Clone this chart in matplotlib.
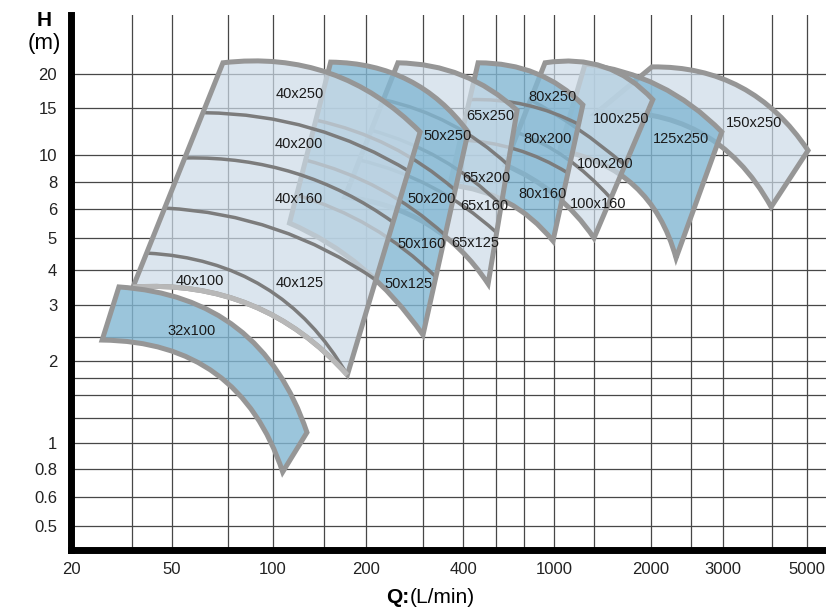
import numpy as np
import matplotlib
matplotlib.use("Agg")
import matplotlib.pyplot as plt
from matplotlib.path import Path
from matplotlib.patches import PathPatch
from matplotlib.ticker import NullFormatter

plt.rcParams['font.family'] = ['Liberation Sans', 'DejaVu Sans']

# the reference grid is hand drawn, not a clean log grid: grid value -> pixel
X_GRID = [20, 30, 50, 70, 100, 150, 200, 300, 400, 500, 700, 1000, 1500, 2000, 2500, 3000, 4000, 5000, 6000]
X_PIX = [71, 132, 172, 228, 273, 324, 366, 423, 463, 496, 524, 554, 594, 651, 691, 723, 772, 807, 826]
Y_GRID = [0.4, 0.5, 0.6, 0.8, 1, 1.2, 1.5, 1.7, 2, 2.5, 3, 4, 5, 6, 8, 10, 15, 20, 30]
Y_PIX = [549.5, 526, 497, 469, 443, 418, 395, 378, 361, 337, 305, 270, 238, 209, 182, 155, 108, 74, 15]
X_LABELED = [20, 50, 100, 200, 400, 1000, 2000, 3000, 5000]
Y_LABELED = [0.5, 0.6, 0.8, 1, 2, 3, 4, 5, 6, 8, 10, 15, 20]

# pump families; each curve is (start, middle, end) in Q [L/min], H [m]
FAMILIES = ['32', '40', '50', '65', '80', '100', '125', '150']
TOP_Q = [[27.5, 75.2, 131], [67.9, 156, 294], [157, 270, 414], [251, 397, 644],
         [443, 807, 1340], [899, 1580, 2020], [1370, 2090, 2980], [2010, 3330, 5050]]
TOP_H = [[3.48, 2.63, 1.08], [21.6, 20.1, 12.2], [21.7, 19, 12.2], [21.6, 19.8, 14.7],
         [21.6, 20.1, 15.4], [21.6, 21, 16.1], [21.4, 18.1, 12.2], [21, 17.9, 10.4]]
BOT_Q = [[24.6, 65.1, 108], [30.4, 84, 176], [114, 195, 300], [173, 309, 474],
         [364, 571, 988], [557, 1010, 1500], [1060, 1840, 2300], [1520, 2620, 3980]]
BOT_H = [[2.43, 1.77, 0.776], [3.48, 3, 1.75], [5.49, 4.06, 2.53], [6.82, 5.46, 3.57],
         [7.75, 6.46, 4.9], [9.21, 6.97, 5], [10.4, 7.67, 4.35], [14.4, 12.2, 6.13]]
# impeller size dividers inside each family
DIV_Q = [[],
         [[61, 136, 274], [54.4, 119, 242], [45.7, 102, 215], [36.3, 93.1, 176]],
         [[141, 237, 378], [129, 221, 351], [120, 207, 329]],
         [[226, 364, 578], [207, 341, 531], [191, 320, 500]],
         [[417, 717, 1290], [389, 636, 1150]],
         [[752, 1280, 1750], [651, 1130, 1630]],
         [], []]
DIV_H = [[],
         [[14.4, 12.6, 8.69], [9.76, 8.62, 5.53], [6.06, 5.29, 3.68], [4.5, 3.48, 1.75]],
         [[13.5, 10.8, 7.35], [9.6, 7.43, 5.1], [6.97, 5.36, 3.78]],
         [[16.1, 13.1, 9.21], [12.4, 9.67, 6.26], [9.6, 7.58, 5.19]],
         [[16.1, 15.4, 13], [11.4, 10.5, 8.62]],
         [[16.1, 12.5, 9.21], [12.1, 9.76, 6.75]],
         [], []]
MODEL_LABELS = ['32x100', '40x100', '40x125', '40x160', '40x200', '40x250', '50x250', '50x200',
                '50x160', '50x125', '65x250', '65x200', '65x160', '65x125', '80x250', '80x200',
                '80x160', '100x250', '100x200', '100x160', '125x250', '150x250']
LABEL_Q = [56.4, 59.2, 124, 123, 123, 124, 357, 320, 298, 270, 480, 470, 461, 434, 977, 931,
           877, 1720, 1590, 1530, 2360, 3600]
LABEL_H = [2.59, 3.65, 3.59, 6.67, 11, 16.9, 11.8, 6.67, 4.8, 3.57, 14, 8.27, 6.19, 4.83, 16.5,
           11.5, 7.04, 13.6, 9.28, 6.33, 11.5, 13.2]

# styles
KIND = ['dark', 'light', 'dark', 'light', 'dark', 'light', 'dark', 'light']
FILL = {'dark': (130 / 255, 183 / 255, 211 / 255, 0.8), 'light': (204 / 255, 219 / 255, 231 / 255, 0.7)}
EDGE = '#969696'
DIV_COLOR = '#7c7c7c'
BOTTOM_EDGE = {'40': '#b8b8b8'}

LOG_XG = np.log10(X_GRID)
XP = np.array(X_PIX, float)
LOG_YG = np.log10(Y_GRID)
YP = -np.array(Y_PIX, float)


def fwd_x(v):
    v = np.clip(np.asarray(v, float), 1e-6, None)
    return np.interp(np.log10(v), LOG_XG, XP)


def inv_x(p):
    return 10 ** np.interp(np.asarray(p, float), XP, LOG_XG)


def fwd_y(v):
    v = np.clip(np.asarray(v, float), 1e-6, None)
    return np.interp(np.log10(v), LOG_YG, YP)


def inv_y(p):
    return 10 ** np.interp(np.asarray(p, float), YP, LOG_YG)


fig = plt.figure(figsize=(8.26, 6.11), dpi=100)
ax = fig.add_axes([71 / 826, 61.5 / 611, 755 / 826, 534.5 / 611])
ax.set_xscale('function', functions=(fwd_x, inv_x))
ax.set_yscale('function', functions=(fwd_y, inv_y))
ax.set_xlim(20, 6000)
ax.set_ylim(0.4, 30)

ax.set_xticks(X_LABELED)
ax.set_xticklabels(['%g' % v for v in X_LABELED])
ax.set_xticks([v for v in X_GRID[1:-1] if v not in X_LABELED], minor=True)
ax.set_yticks(Y_LABELED)
ax.set_yticklabels(['%g' % v for v in Y_LABELED])
ax.set_yticks([v for v in Y_GRID[1:-1] if v not in Y_LABELED], minor=True)
ax.xaxis.set_minor_formatter(NullFormatter())
ax.yaxis.set_minor_formatter(NullFormatter())
ax.set_axisbelow(True)
ax.grid(True, which='both', color='#474747', linewidth=0.9)
ax.tick_params(which='both', length=0, labelsize=12, labelcolor='#222222')
ax.tick_params(axis='x', pad=9)
ax.tick_params(axis='y', pad=10)
for s in ['top', 'right']:
    ax.spines[s].set_visible(False)
for s in ['left', 'bottom']:
    ax.spines[s].set_linewidth(5)
    ax.spines[s].set_color('black')
    ax.spines[s].set_zorder(200)

to_ax = ax.transScale + ax.transLimits


def pts(q, h):
    return to_ax.transform(np.column_stack([q, h]))


def ctrl(p):
    # quadratic bezier control point so the curve passes through the middle reading
    return 2 * p[1] - 0.5 * (p[0] + p[2])


def curve(p):
    return Path([p[0], ctrl(p), p[2]], [Path.MOVETO, Path.CURVE3, Path.CURVE3])


# right-hand families lie underneath the left-hand ones
for i in reversed(range(len(FAMILIES))):
    z = (10 - i) * 3
    t = pts(TOP_Q[i], TOP_H[i])
    b = pts(BOT_Q[i], BOT_H[i])
    verts = [t[0], ctrl(t), t[2], b[2], ctrl(b), b[0], t[0]]
    codes = [Path.MOVETO, Path.CURVE3, Path.CURVE3, Path.LINETO, Path.CURVE3, Path.CURVE3, Path.CLOSEPOLY]
    shape = Path(verts, codes)
    ax.add_patch(PathPatch(shape, transform=ax.transAxes, facecolor=FILL[KIND[i]],
                           edgecolor='none', zorder=z))
    for dq, dh in zip(DIV_Q[i], DIV_H[i]):
        ax.add_patch(PathPatch(curve(pts(dq, dh)), transform=ax.transAxes, fill=False,
                               edgecolor=DIV_COLOR, linewidth=2.5, capstyle='butt', zorder=z + 1))
    ax.add_patch(PathPatch(shape, transform=ax.transAxes, fill=False, edgecolor=EDGE,
                           linewidth=3.6, joinstyle='miter', zorder=z + 2))
    if FAMILIES[i] in BOTTOM_EDGE:
        ax.add_patch(PathPatch(curve(b), transform=ax.transAxes, fill=False,
                               edgecolor=BOTTOM_EDGE[FAMILIES[i]], linewidth=3.6,
                               capstyle='butt', zorder=z + 2.5))

for name, q, h in zip(MODEL_LABELS, LABEL_Q, LABEL_H):
    ax.text(q, h, name, ha='center', va='center', fontsize=10.5, color='#1a1a1a', zorder=100)

fig.text(44 / 826, 1 - 21 / 611, 'H', ha='center', va='center', fontsize=15, fontweight='bold')
fig.text(44 / 826, 1 - 44 / 611, '(m)', ha='center', va='center', fontsize=16)
fig.text(409 / 826, 1 - 603 / 611, 'Q:', ha='right', va='baseline', fontsize=15, fontweight='bold')
fig.text(410 / 826, 1 - 603 / 611, '(L/min)', ha='left', va='baseline', fontsize=15)

fig.savefig('out.png', dpi=100)
